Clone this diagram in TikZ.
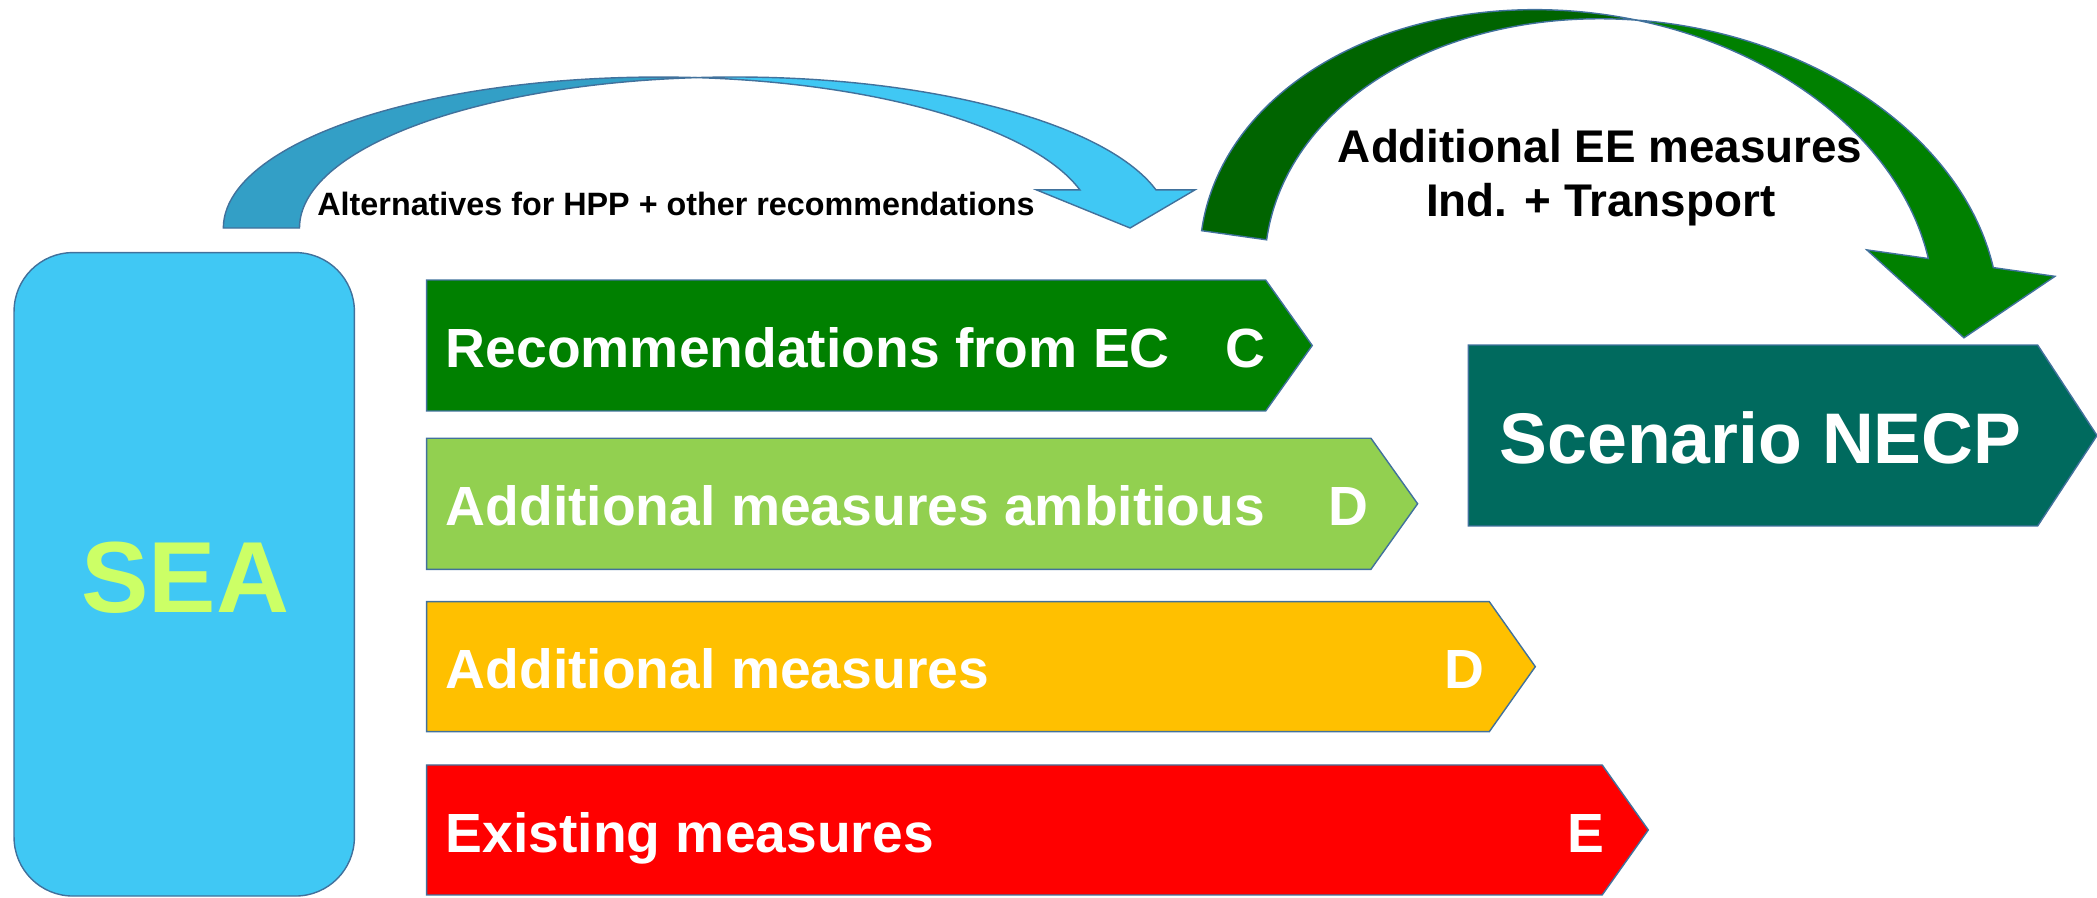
\documentclass[tikz,border=0pt]{standalone}
\usepackage{fontspec}
\setmainfont{Liberation Sans}
\usetikzlibrary{positioning,calc}

\definecolor{skyblue}{RGB}{64,200,244}
\definecolor{skyshade}{RGB}{51,159,198}
\definecolor{seatext}{RGB}{204,255,102}
\definecolor{ecgreen}{RGB}{0,128,0}
\definecolor{eeshade}{RGB}{0,100,0}
\definecolor{ambgreen}{RGB}{146,208,80}
\definecolor{addorange}{RGB}{255,192,0}
\definecolor{exred}{RGB}{255,0,0}
\definecolor{necpteal}{RGB}{0,106,94}
\definecolor{edgeblue}{RGB}{65,113,156}

\begin{document}
\begin{tikzpicture}[x=0.02cm, y=0.02cm,
    outline/.style={draw=edgeblue, line width=0.6pt},
    bartext/.style={anchor=base west, inner sep=0pt, text=white,
        font=\bfseries\fontsize{23.5}{28}\selectfont},
    arctext/.style={anchor=base, inner sep=0pt, text=black},
    seaarc/.style={x radius=6.51cm, y radius=2.258cm},
    eearc/.style={x radius=5.514cm, y radius=4.04cm}]
    \useasboundingbox (0,0) rectangle (1568,671);

    % SEA block
    \filldraw [outline, fill=skyblue, rounded corners=0.88cm] (10.5,1) rectangle (265,482.1);
    \node [anchor=base, inner sep=0pt, text=seatext, font=\bfseries\fontsize{43}{50}\selectfont] (sea) at (138.5,213) {SEA};

    % Recommendations from EC
    \filldraw [outline, fill=ecgreen] (319,363.7) -- (319,461.6) -- (946.4,461.6) -- (981.2,412.65) -- (946.4,363.7) -- cycle;
    \node [bartext] (rec) at (333,396.4) {Recommendations from EC};
    \node [bartext] (recgrade) at (916,396.4) {C};

    % Additional measures ambitious
    \filldraw [outline, fill=ambgreen] (319,245.3) -- (319,343.3) -- (1025.1,343.3) -- (1060,294.3) -- (1025.1,245.3) -- cycle;
    \node [bartext] (amb) at (333,278.4) {Additional measures ambitious};
    \node [bartext] (ambgrade) at (993,278.4) {D};

    % Additional measures
    \filldraw [outline, fill=addorange] (319,123.9) -- (319,221.1) -- (1113.6,221.1) -- (1148,172.5) -- (1113.6,123.9) -- cycle;
    \node [bartext] (add) at (333,156.3) {Additional measures};
    \node [bartext] (addgrade) at (1079.5,156.3) {D};

    % Existing measures
    \filldraw [outline, fill=exred] (319,1.8) -- (319,99) -- (1198,99) -- (1232.5,50.4) -- (1198,1.8) -- cycle;
    \node [bartext] (exist) at (333,33.4) {Existing measures};
    \node [bartext] (existgrade) at (1172,33.4) {E};

    % Scenario NECP
    \filldraw [outline, fill=necpteal] (1097.9,277.7) -- (1097.9,413) -- (1523.6,413) -- (1568,345.35) -- (1523.6,277.7) -- cycle;
    \node [anchor=base west, inner sep=0pt, text=white, font=\bfseries\fontsize{30.5}{36}\selectfont] (necp) at (1121,324.6) {Scenario NECP};

    % Curved arrow from SEA
    \begin{scope}[shift={(167,500.5)}]
        \filldraw [outline, fill=skyshade] (0,0)
            arc [seaarc, start angle=180, end angle=84.98]
            arc [seaarc, start angle=95.02, end angle=180] -- cycle;
        \filldraw [outline, fill=skyblue] (354,112.47)
            arc [seaarc, start angle=95.02, end angle=14.6]
            -- (726.5,28.5) -- (678,0) -- (608,28.5) -- (640.5,28.46)
            arc [seaarc, start angle=14.6, end angle=84.98] -- cycle;
    \end{scope}
    \node [arctext, font=\bfseries\fontsize{13.75}{16}\selectfont] (alt) at (505.5,509.7) {Alternatives for HPP + other recommendations};

    % Curved arrow to NECP
    \begin{scope}[shift={(898.5,498.5)}, rotate=-8]
        \filldraw [outline, fill=eeshade] (0,0)
            arc [eearc, start angle=180, end angle=84.89]
            arc [eearc, start angle=95.11, end angle=180] -- cycle;
        \filldraw [outline, fill=ecgreen] (300.25,201.2)
            arc [eearc, start angle=95.11, end angle=15.8]
            -- (636.6,55) -- (575.6,0) -- (494.5,55) -- (540.98,55)
            arc [eearc, start angle=15.8, end angle=84.89] -- cycle;
    \end{scope}
    \node [arctext, font=\bfseries\fontsize{19.5}{23}\selectfont] (ee) at (1196.5,549.6) {Additional EE measures};
    \node [arctext, font=\bfseries\fontsize{19.5}{23}\selectfont] (eesector) at (1197,509) {Ind. + Transport};
\end{tikzpicture}
\end{document}
